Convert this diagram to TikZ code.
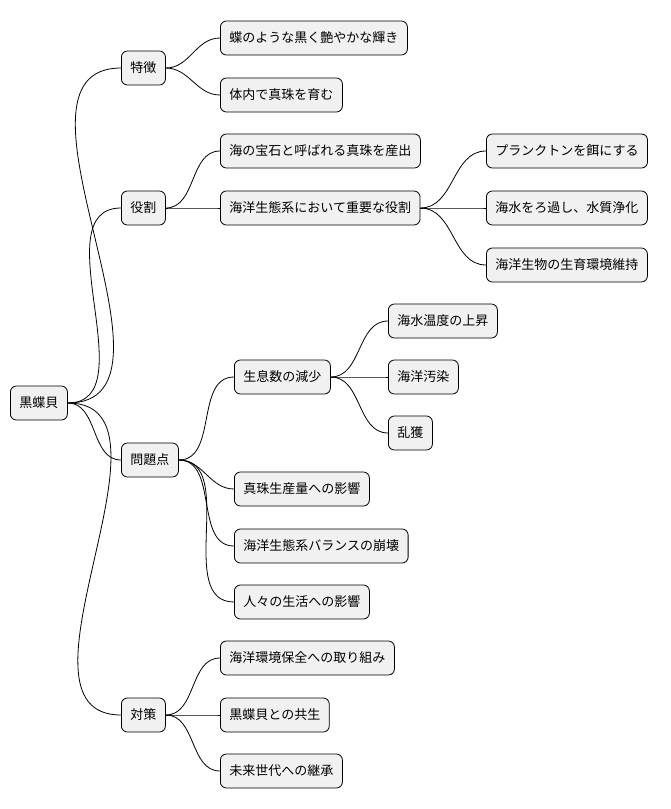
\documentclass[tikz,border=0pt]{standalone}
\usepackage{fontspec}
\setmainfont{Noto Sans CJK JP}
\begin{document}
\begin{tikzpicture}[x=1pt,y=-1pt,
 box/.style={draw=black,fill={rgb,255:red,241;green,241;blue,241},rounded corners=6pt,line width=0.8pt,minimum height=34pt,inner xsep=9pt,anchor=west,font=\fontsize{13}{15}\selectfont},
 link/.style={draw=black,line width=0.8pt}]
\useasboundingbox (0,0) rectangle (670,809);
\node[box] (r) at (10,403) {黒蝶貝};
\node[box] (a) at (121,68) {特徴};
\node[box] (a1) at (220,38) {蝶のような黒く艶やかな輝き};
\node[box] (a2) at (220,95) {体内で真珠を育む};
\node[box] (b) at (121,208) {役割};
\node[box] (b1) at (220,151) {海の宝石と呼ばれる真珠を産出};
\node[box] (b2) at (220,208) {海洋生態系において重要な役割};
\node[box] (b21) at (486,151) {プランクトンを餌にする};
\node[box] (b22) at (486,208) {海水をろ過し、水質浄化};
\node[box] (b23) at (486,265) {海洋生物の生育環境維持};
\node[box] (c) at (121,460) {問題点};
\node[box] (c1) at (234,377) {生息数の減少};
\node[box] (c11) at (388,321) {海水温度の上昇};
\node[box] (c12) at (388,377) {海洋汚染};
\node[box] (c13) at (388,433) {乱獲};
\node[box] (c2) at (234,489) {真珠生産量への影響};
\node[box] (c3) at (234,546) {海洋生態系バランスの崩壊};
\node[box] (c4) at (234,602) {人々の生活への影響};
\node[box] (d) at (121,715) {対策};
\node[box] (d1) at (220,658) {海洋環境保全への取り組み};
\node[box] (d2) at (220,715) {黒蝶貝との共生};
\node[box] (d3) at (220,771) {未来世代への継承};
\foreach \p/\c in {r/a,r/b,r/c,r/d,a/a1,a/a2,b/b1,b/b2,b2/b21,b2/b22,b2/b23,c/c1,c/c2,c/c3,c/c4,c1/c11,c1/c12,c1/c13,d/d1,d/d2,d/d3}
  \draw[link] (\p.east) to[out=0,in=180] (\c.west);
\end{tikzpicture}
\end{document}
